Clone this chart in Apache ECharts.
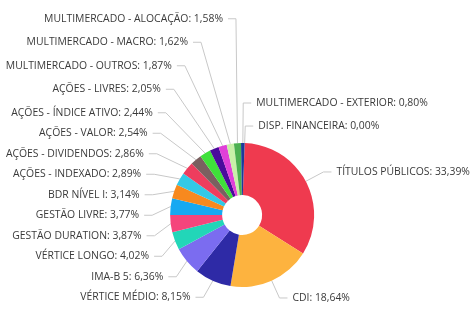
<!DOCTYPE html>
<html>
<head>
<meta charset="utf-8">
<script src="https://cdn.jsdelivr.net/npm/echarts@6/dist/echarts.min.js"></script>
<style>
  html, body, #main { width: 100%; height: 100%; margin: 0; background: #fff; }
</style>
</head>
<body>
<div id="main"></div>
<script>
var names = [
  'TÍTULOS PÚBLICOS', 'CDI', 'VÉRTICE MÉDIO', 'IMA-B 5', 'VÉRTICE LONGO',
  'GESTÃO DURATION', 'GESTÃO LIVRE', 'BDR NÍVEL I', 'AÇÕES - INDEXADO',
  'AÇÕES - DIVIDENDOS', 'AÇÕES - VALOR', 'AÇÕES - ÍNDICE ATIVO', 'AÇÕES - LIVRES',
  'MULTIMERCADO - OUTROS', 'MULTIMERCADO - MACRO', 'MULTIMERCADO - ALOCAÇÃO',
  'MULTIMERCADO - EXTERIOR', 'DISP. FINANCEIRA'
];
var values = [33.39, 18.64, 8.15, 6.36, 4.02, 3.87, 3.77, 3.14, 2.89, 2.86, 2.54, 2.44, 2.05, 1.87, 1.62, 1.58, 0.80, 0.00];
var colors = [
  '#ef3a4f', '#fdb33f', '#2e2aa6', '#7b6cf0', '#22d6b8',
  '#f5457c', '#16a9f2', '#f7891e', '#33c9e6', '#ee3d5e',
  '#7a6060', '#3fe03a', '#4a0a9c', '#e040d8', '#c8f0a8',
  '#4cb050', '#1a3a9a', '#888888'
];
// first label-line segment length for the right-hand labels
var lineLength = {
  'MULTIMERCADO - EXTERIOR': 40,
  'DISP. FINANCEIRA': 17,
  'CDI': 19,
  'TÍTULOS PÚBLICOS': 20
};
// smaller label boxes on the right so they are not shifted by the layout
var compactLabels = ['MULTIMERCADO - EXTERIOR', 'DISP. FINANCEIRA', 'CDI', 'TÍTULOS PÚBLICOS'];

var chart = echarts.init(document.getElementById('main'));

var data = names.map(function (n, i) {
  var item = { name: n, value: values[i], itemStyle: { color: colors[i] } };
  if (lineLength[n] != null) {
    item.labelLine = { length: lineLength[n] };
  }
  if (compactLabels.indexOf(n) >= 0) {
    item.label = { lineHeight: 14 };
  }
  return item;
});

chart.setOption({
  animation: false,
  series: [{
    type: 'pie',
    top: 7,
    bottom: 0,
    center: ['51.3%', 208],
    radius: [20, 72],
    startAngle: 88,
    clockwise: true,
    avoidLabelOverlap: true,
    data: data,
    label: {
      color: '#3a3a3a',
      fontFamily: 'Open Sans',
      fontSize: 10.4,
      lineHeight: 21.5,
      overflow: 'none',
      bleedMargin: 0,
      formatter: function (p) {
        return p.name + ': ' + p.value.toFixed(2).replace('.', ',') + '%';
      }
    },
    labelLine: {
      length: 23,
      length2: 8,
      lineStyle: { color: '#c8c8c8', width: 1 }
    },
    labelLayout: { hideOverlap: false },
    itemStyle: { borderWidth: 0 }
  }]
});
</script>
</body>
</html>
